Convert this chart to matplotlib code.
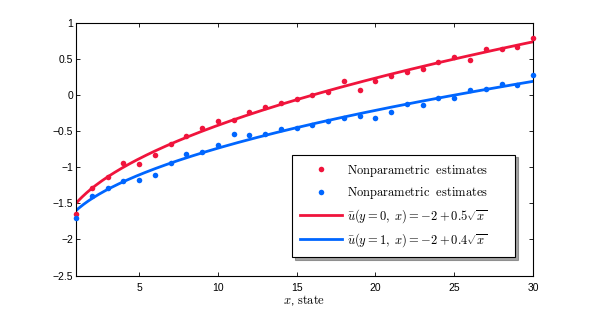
import numpy as np
import matplotlib
matplotlib.use('Agg')
import matplotlib.pyplot as plt

# data
states = list(range(1, 31))
est_y0 = [-1.645, -1.29, -1.14, -0.94, -0.96, -0.83, -0.68, -0.56, -0.455, -0.36,
          -0.345, -0.24, -0.17, -0.105, -0.06, 0.00, 0.04, 0.19, 0.065, 0.19,
          0.26, 0.32, 0.355, 0.46, 0.53, 0.49, 0.645, 0.645, 0.67, 0.785]
est_y1 = [-1.70, -1.40, -1.285, -1.19, -1.18, -1.10, -0.945, -0.815, -0.79, -0.69,
          -0.54, -0.55, -0.535, -0.465, -0.46, -0.42, -0.36, -0.31, -0.285, -0.32,
          -0.23, -0.12, -0.14, -0.045, -0.035, 0.075, 0.085, 0.16, 0.145, 0.28]
# parametric model stated in the legend
intercept = -2.0
slope_y0 = 0.5
slope_y1 = 0.4

yticks = [-2.5, -2, -1.5, -1, -0.5, 0, 0.5, 1]
ytick_labels = ['\u22122.5', '\u22122', '\u22121.5', '\u22121', '\u22120.5', '0', '0.5', '1']
xticks = [5, 10, 15, 20, 25, 30]

red = '#F0143C'
blue = '#0066FF'

plt.rcParams['mathtext.fontset'] = 'cm'
plt.rcParams['font.family'] = ['Liberation Sans', 'DejaVu Sans']

fig = plt.figure(figsize=(5.89, 3.10), dpi=100)
ax = fig.add_axes([0.129, 0.111, 0.776, 0.815])

xs = np.linspace(1, 30, 300)
ax.plot(states, est_y0, 'o', color=red, ms=4, mew=0, clip_on=False, zorder=3,
        label=r'$\mathrm{Nonparametric\ \ estimates}$')
ax.plot(states, est_y1, 'o', color=blue, ms=4, mew=0, clip_on=False, zorder=3,
        label=r'$\mathrm{Nonparametric\ \ estimates}$')
ax.plot(xs, intercept + slope_y0 * np.sqrt(xs), color=red, lw=2,
        label=r'$\bar{u}(y=0,\ x)=-2+0.5\sqrt{x}$')
ax.plot(xs, intercept + slope_y1 * np.sqrt(xs), color=blue, lw=2,
        label=r'$\bar{u}(y=1,\ x)=-2+0.4\sqrt{x}$')

ax.set_xlim(1, 30)
ax.set_ylim(-2.5, 1)
ax.set_xticks(xticks)
ax.set_yticks(yticks)
ax.set_yticklabels(ytick_labels)
ax.tick_params(direction='in', top=True, right=True, length=3, width=0.6, labelsize=7.5)
ax.tick_params(axis='y', pad=2)
ax.tick_params(axis='x', pad=5)
for s in ax.spines.values():
    s.set_linewidth(0.8)
ax.set_xlabel(r'$x$, $\mathrm{state}$', fontsize=9, labelpad=0)

leg = ax.legend(loc='lower left', bbox_to_anchor=(0.473, 0.073, 0.488, 0.392),
                mode='expand', fontsize=9,
                numpoints=1, fancybox=False, shadow=True, edgecolor='black',
                framealpha=1, handlelength=3.3, handletextpad=0.4,
                labelspacing=0.5, borderpad=0.65, borderaxespad=0)
leg.get_frame().set_linewidth(0.8)

fig.savefig('out.png', dpi=100)
